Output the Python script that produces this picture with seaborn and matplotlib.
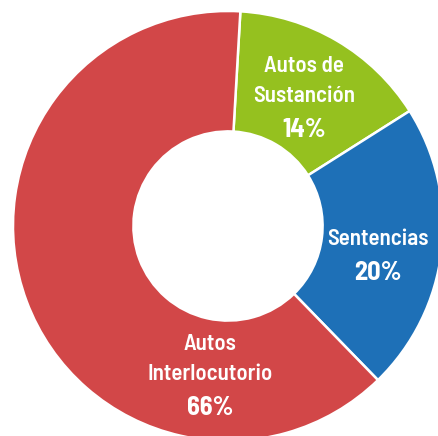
import matplotlib
matplotlib.use("Agg")
from matplotlib import pyplot as plt
import seaborn as sns

# slice sizes as drawn in the reference, and the printed labels
categories = ["Autos de\nSustanción", "Sentencias", "Autos\nInterlocutorio"]
values = [15.1, 21.7, 63.2]
pct_labels = ["14%", "20%", "66%"]
colors = ["#95C11F", "#1E70B7", "#D24748"]

sns.set_theme(style="white")
plt.rcParams['font.family'] = ['Barlow Semi Condensed', 'DejaVu Sans']

fig = plt.figure(figsize=(4.39, 4.36), dpi=100)
ax = fig.add_axes([0, 0, 1, 1])

wedges, _ = ax.pie(values, colors=colors, startangle=86.7, counterclock=False,
                   radius=1.0, wedgeprops=dict(width=0.56, edgecolor="white", linewidth=1.8))

# baseline of the percentage line for each label, in pie units
label_pos = [(0.353, 0.414), (0.698, -0.251), (-0.084, -0.879)]
for (x, y), cat, pct in zip(label_pos, categories, pct_labels):
    ax.text(x, y, pct, ha="center", va="baseline", color="white",
            fontsize=19, fontweight="bold")
    lines = cat.split("\n")
    for i, line in enumerate(reversed(lines)):
        ax.text(x, y + 0.163 + 0.140 * i, line, ha="center", va="baseline",
                color="white", fontsize=16.5, fontweight="semibold")

R = 215.0
ax.set_xlim(-228 / R, (439 - 228) / R)
ax.set_ylim((226 - 436) / R, 226 / R)
ax.set_aspect("auto")
ax.axis("off")

fig.savefig("out.png", dpi=100)
